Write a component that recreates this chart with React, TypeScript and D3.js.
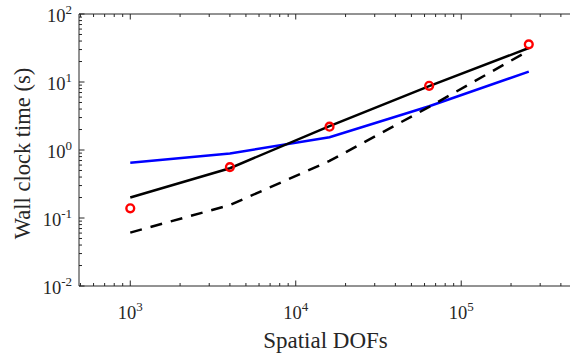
import React from 'react';
import * as d3 from 'd3';

// Data
const dofs = [1000, 4000, 16000, 64000, 256000];
const solidBlack = [0.2, 0.54, 2.25, 8.7, 31.6];
const dashedBlack = [0.061, 0.155, 0.69, 4.3, 29];
const blueLine = [0.65, 0.89, 1.54, 4.4, 14.2];
const redCircles = [0.139, 0.56, 2.2, 8.8, 35.8];
const xExponents = [3, 4, 5];
const yExponents = [-2, -1, 0, 1, 2];

const W = 570;
const H = 356;
const LEFT = 79;
const TOP = 14;
const BOTTOM = 286;
const RIGHT = 590;
const X_MIN = 490;
const X_MAX = 6e5;

const FONT = '"Liberation Serif", "Times New Roman", serif';
const INK = '#262626';

export default function App() {
  const x = d3.scaleLog().domain([X_MIN, X_MAX]).range([LEFT, RIGHT]);
  const y = d3.scaleLog().domain([1e-2, 1e2]).range([BOTTOM, TOP]);

  const line = d3
    .line<[number, number]>()
    .x((d) => x(d[0]))
    .y((d) => y(d[1]));

  const pairs = (vals: number[]) => dofs.map((d, i) => [d, vals[i]] as [number, number]);

  const xTicks: { v: number; major: boolean }[] = [];
  for (let k = 2; k <= 5; k++) {
    for (let m = 1; m <= 9; m++) {
      const v = m * Math.pow(10, k);
      if (v >= X_MIN && v <= X_MAX) xTicks.push({ v, major: m === 1 });
    }
  }
  const yTicks: { v: number; major: boolean }[] = [];
  for (let k = -2; k <= 2; k++) {
    for (let m = 1; m <= 9; m++) {
      const v = m * Math.pow(10, k);
      if (v <= 100.0001) yTicks.push({ v, major: m === 1 });
    }
  }
  const MAJ = 5.5;
  const MIN = 3;

  return (
    <svg
      width={W}
      height={H}
      style={{ position: 'fixed', left: 0, top: 0, display: 'block', background: '#fff' }}
    >
      <defs>
        <clipPath id="plot">
          <rect x={LEFT} y={TOP} width={RIGHT - LEFT} height={BOTTOM - TOP} />
        </clipPath>
      </defs>

      {/* axes lines */}
      <line x1={LEFT} x2={W} y1={TOP} y2={TOP} stroke={INK} strokeWidth={1} />
      <line x1={LEFT} x2={W} y1={BOTTOM} y2={BOTTOM} stroke={INK} strokeWidth={1} />
      <line x1={LEFT} x2={LEFT} y1={TOP} y2={BOTTOM} stroke={INK} strokeWidth={1} />

      {/* x ticks (bottom and top, inward) */}
      {xTicks.map((t, i) => {
        const px = x(t.v);
        const len = t.major ? MAJ : MIN;
        return (
          <g key={'xt' + i}>
            <line x1={px} x2={px} y1={BOTTOM} y2={BOTTOM - len} stroke={INK} strokeWidth={1} />
            <line x1={px} x2={px} y1={TOP} y2={TOP + len} stroke={INK} strokeWidth={1} />
          </g>
        );
      })}

      {/* y ticks (left, inward) */}
      {yTicks.map((t, i) => {
        const py = y(t.v);
        const len = t.major ? MAJ : MIN;
        return <line key={'yt' + i} x1={LEFT} x2={LEFT + len} y1={py} y2={py} stroke={INK} strokeWidth={1} />;
      })}

      {/* x tick labels */}
      {xExponents.map((e) => (
        <text
          key={'xl' + e}
          x={x(Math.pow(10, e))}
          y={BOTTOM + 33}
          textAnchor="middle"
          fontFamily={FONT}
          fontSize={18.5}
          fill={INK}
        >
          <tspan>10</tspan>
          <tspan dy={-8} fontSize={13}>
            {e}
          </tspan>
        </text>
      ))}

      {/* y tick labels */}
      {yExponents.map((e) => (
        <text
          key={'yl' + e}
          x={72}
          y={y(Math.pow(10, e)) + 8}
          textAnchor="end"
          fontFamily={FONT}
          fontSize={18.5}
          fill={INK}
        >
          <tspan>10</tspan>
          <tspan dy={-8} fontSize={13}>
            {e < 0 ? '-' + Math.abs(e) : String(e)}
          </tspan>
        </text>
      ))}

      {/* axis titles */}
      <text x={325.5} y={348} textAnchor="middle" fontFamily={FONT} fontSize={23} fill={INK}>
        Spatial DOFs
      </text>
      <text
        transform="translate(30,153.5) rotate(-90)"
        textAnchor="middle"
        fontFamily={FONT}
        fontSize={22.5}
        fill={INK}
      >
        Wall clock time (s)
      </text>

      {/* series */}
      <g clipPath="url(#plot)">
        <path d={line(pairs(blueLine)) || ''} fill="none" stroke="#0000ff" strokeWidth={2.5} />
        <path
          d={line(pairs(dashedBlack)) || ''}
          fill="none"
          stroke="#000"
          strokeWidth={2.5}
          strokeDasharray="12,9"
        />
        <path d={line(pairs(solidBlack)) || ''} fill="none" stroke="#000" strokeWidth={2.5} />
        {dofs.map((d, i) => (
          <circle
            key={'c' + i}
            cx={x(d)}
            cy={y(redCircles[i])}
            r={3.9}
            fill="none"
            stroke="#ff0000"
            strokeWidth={2.4}
          />
        ))}
      </g>
    </svg>
  );
}
